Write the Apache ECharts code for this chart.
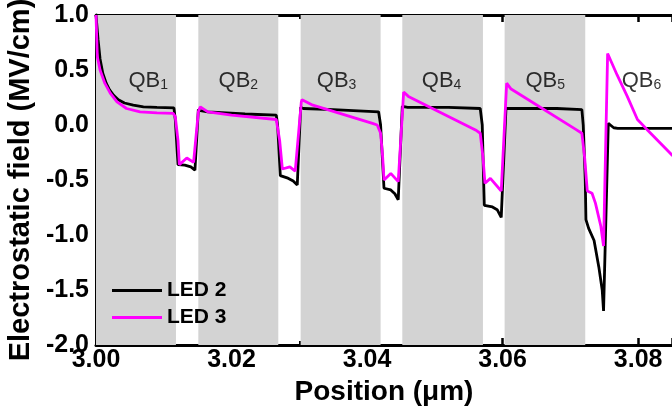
<!DOCTYPE html>
<html>
<head>
<meta charset="utf-8">
<script src="https://cdn.jsdelivr.net/npm/echarts@6/dist/echarts.min.js"></script>
<style>
html,body{margin:0;padding:0;background:#fff;}
#c{width:672px;height:409px;}
</style>
</head>
<body>
<div id="c"></div>
<script>
// ---- data ----
var xTicks = [3.00, 3.02, 3.04, 3.06, 3.08];
var yTicks = [-2.0, -1.5, -1.0, -0.5, 0.0, 0.5, 1.0];
var barrierStart = [3.0000, 3.0151, 3.0302, 3.0452, 3.0603];
var barrierEnd   = [3.0118, 3.0269, 3.0420, 3.0571, 3.0722];
var qbNames = ['1', '2', '3', '4', '5', '6'];
var qbLabelX = [3.0077, 3.0210, 3.0355, 3.0510, 3.0663, 3.0805];
var qbLabelY = [0.42, 0.42, 0.42, 0.42, 0.42, 0.42];
var seriesNames = ['LED 2', 'LED 3'];

var led2 = [
  [3.0000, 1.00], [3.0003, 0.78], [3.0006, 0.60], [3.0010, 0.47], [3.0015, 0.38],
  [3.0020, 0.32], [3.0026, 0.27], [3.0033, 0.23], [3.0042, 0.20], [3.0055, 0.18],
  [3.0070, 0.165], [3.0090, 0.16], [3.0115, 0.155],
  [3.0117, 0.05], [3.0121, -0.36], [3.0131, -0.365], [3.0140, -0.38], [3.0146, -0.41],
  [3.0151, 0.14], [3.0154, 0.13], [3.0165, 0.12], [3.0220, 0.10], [3.0266, 0.09],
  [3.0268, 0.00], [3.0272, -0.46], [3.0282, -0.48], [3.0291, -0.51], [3.0297, -0.545],
  [3.0302, 0.16], [3.0306, 0.15], [3.0350, 0.14], [3.0417, 0.12],
  [3.0420, 0.00], [3.0423, -0.35], [3.0425, -0.575], [3.0435, -0.59], [3.0441, -0.625], [3.0446, -0.68],
  [3.0452, 0.17], [3.0460, 0.16], [3.0520, 0.16], [3.0567, 0.15],
  [3.0570, 0.00], [3.0572, -0.50], [3.0573, -0.73], [3.0585, -0.745], [3.0592, -0.77], [3.0598, -0.84],
  [3.0605, 0.15], [3.0612, 0.15], [3.0680, 0.15], [3.0717, 0.14],
  [3.0719, 0.00], [3.0722, -0.50], [3.0723, -0.86], [3.0727, -0.94], [3.0735, -1.05],
  [3.0742, -1.29], [3.0747, -1.50], [3.0749, -1.69],
  [3.0756, 0.015], [3.0759, 0.00], [3.0764, -0.025], [3.0770, -0.03], [3.0851, -0.03]
];

var led3 = [
  [3.0000, 1.00], [3.0001, 0.80], [3.0002, 0.62], [3.0006, 0.50], [3.0013, 0.38],
  [3.0021, 0.29], [3.0031, 0.21], [3.0045, 0.15], [3.0065, 0.12], [3.0090, 0.11], [3.0114, 0.105],
  [3.0117, 0.075], [3.0121, -0.14], [3.0123, -0.36], [3.0134, -0.30], [3.0144, -0.34],
  [3.0151, 0.12], [3.0154, 0.165], [3.0165, 0.12], [3.0200, 0.09], [3.0266, 0.05],
  [3.0271, -0.14], [3.0275, -0.40], [3.0286, -0.38], [3.0294, -0.42],
  [3.0303, 0.21], [3.0304, 0.23], [3.0320, 0.18], [3.0408, 0.015], [3.0415, 0.00],
  [3.0420, -0.075], [3.0423, -0.29], [3.0425, -0.50], [3.0435, -0.44], [3.0446, -0.515],
  [3.0454, 0.30], [3.0461, 0.26], [3.0560, -0.045], [3.0567, -0.075],
  [3.0571, -0.29], [3.0574, -0.53], [3.0582, -0.485], [3.0598, -0.60],
  [3.0606, 0.38], [3.0612, 0.33], [3.0708, -0.04], [3.0717, -0.075],
  [3.0721, -0.29], [3.0725, -0.60], [3.0732, -0.62], [3.0737, -0.71], [3.0745, -0.92], [3.0749, -1.10],
  [3.0755, 0.65], [3.0769, 0.455], [3.0784, 0.26], [3.0799, 0.05],
  [3.0813, -0.04], [3.0851, -0.28]
];

// ---- chart ----
var chart = echarts.init(document.getElementById('c'), null, {renderer: 'canvas'});
var FONT = 'Liberation Sans, Arial, sans-serif';

var areas = barrierStart.map(function (s, i) {
  return [{xAxis: s}, {xAxis: barrierEnd[i]}];
});
var qbData = qbLabelX.map(function (x, i) { return [x, qbLabelY[i], qbNames[i]]; });

var xAxisBase = {
  type: 'value', min: 3.0, max: 3.085, interval: 0.02,
  axisLine: {show: true, onZero: false, lineStyle: {color: '#000', width: 3}},
  axisTick: {show: true, inside: true, length: 7, lineStyle: {color: '#000', width: 2.5}},
  minorTick: {show: true, splitNumber: 2, length: 4, lineStyle: {color: '#000', width: 2}},
  splitLine: {show: false}
};

var option = {
  backgroundColor: '#fff',
  animation: false,
  grid: {left: 96, right: 0, top: 15, bottom: 64, containLabel: false, outerBoundsMode: 'none'},
  xAxis: [
    Object.assign({}, xAxisBase, {
      position: 'bottom',
      name: 'Position (\u03bcm)', nameLocation: 'middle', nameGap: 23,
      nameTextStyle: {fontFamily: FONT, fontWeight: 'bold', fontSize: 28, color: '#000'},
      axisLabel: {show: true, margin: 3, fontFamily: FONT, fontWeight: 'bold', fontSize: 25, color: '#000',
        showMaxLabel: false,
        formatter: function (v) { return v.toFixed(2); }}
    }),
    Object.assign({}, xAxisBase, {position: 'top', axisLabel: {show: false}})
  ],
  yAxis: {
    type: 'value', min: -2.0, max: 1.0, interval: 0.5,
    name: 'Electrostatic field (MV/cm)', nameLocation: 'middle', nameGap: 58,
    nameTextStyle: {fontFamily: FONT, fontWeight: 'bold', fontSize: 29, color: '#000'},
    axisLine: {show: true, onZero: false, lineStyle: {color: '#000', width: 3}},
    axisTick: {show: true, inside: true, length: 6, lineStyle: {color: '#000', width: 2.5}},
    minorTick: {show: true, splitNumber: 2, length: 4, lineStyle: {color: '#000', width: 2}},
    splitLine: {show: false},
    axisLabel: {margin: 7, fontFamily: FONT, fontWeight: 'bold', fontSize: 25, color: '#000',
      formatter: function (v) { return v.toFixed(1); }}
  },
  legend: {
    data: seriesNames.map(function (n) { return {name: n, icon: 'rect'}; }),
    orient: 'vertical', left: 112, top: 280, padding: 0,
    itemWidth: 50, itemHeight: 3, itemGap: 6,
    textStyle: {fontFamily: FONT, fontWeight: 'bold', fontSize: 21, lineHeight: 21, color: '#000'}
  },
  series: [
    {
      name: 'barriers', type: 'line', data: [], z: 1, silent: true,
      markArea: {silent: true, itemStyle: {color: '#d3d3d3'}, data: areas}
    },
    {
      name: seriesNames[0], type: 'line', data: led2, symbol: 'none', z: 3,
      lineStyle: {color: '#000', width: 2.8}, itemStyle: {color: '#000'}
    },
    {
      name: seriesNames[1], type: 'line', data: led3, symbol: 'none', z: 4,
      lineStyle: {color: '#ff00ff', width: 2.8}, itemStyle: {color: '#ff00ff'}
    },
    {
      name: 'qb', type: 'scatter', data: qbData, symbolSize: 0, z: 5, silent: true,
      label: {
        show: true, position: 'inside',
        formatter: function (p) { return '{q|QB}{s|' + p.data[2] + '}'; },
        rich: {
          q: {fontFamily: FONT, fontSize: 22, color: '#000', lineHeight: 26, verticalAlign: 'bottom'},
          s: {fontFamily: FONT, fontSize: 14, color: '#000', lineHeight: 12, verticalAlign: 'bottom'}
        }
      }
    }
  ]
};
chart.setOption(option);
</script>
</body>
</html>
